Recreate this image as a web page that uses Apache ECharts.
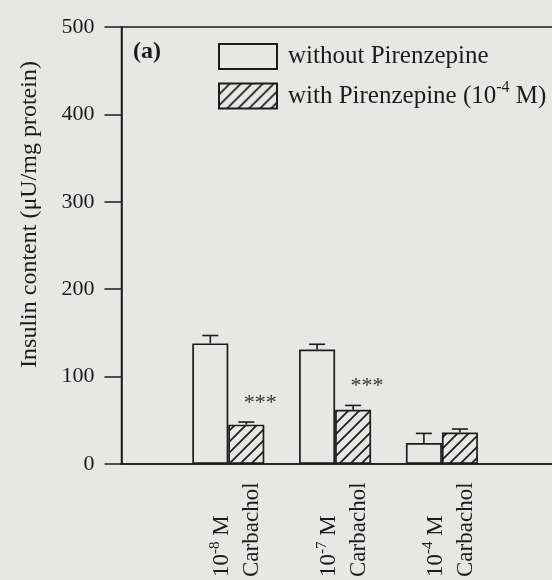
<!DOCTYPE html>
<html>
<head>
<meta charset="utf-8">
<script src="https://cdn.jsdelivr.net/npm/echarts@6/dist/echarts.min.js"></script>
<style>
  html, body { margin: 0; padding: 0; background: #e7e7e5; }
  #chart { width: 552px; height: 580px; }
</style>
</head>
<body>
<div id="chart"></div>
<script>
// carbachol doses (one group of bars each)
var doses = ['10^-8 M', '10^-7 M', '10^-4 M'];
var agent = 'Carbachol';
// insulin content (µU/mg protein)
var without = [138, 131, 24];
var withPz = [45, 62, 36];
// upper error (SEM)
var errWithout = [9, 6, 11];
var errWith = [3, 5, 4];
// significance marks over the "with" bars
var sig = ['***', '***', ''];
var yTicks = [0, 100, 200, 300, 400, 500];
var seriesNames = ['without Pirenzepine', 'with Pirenzepine (10^-4 M)'];

var ink = '#1c1c1c';
var paper = '#e7e7e5';
var font = 'Liberation Serif';

// empty slots so the groups sit where they do in the figure (panel runs off the right edge)
var axisData = [''].concat(doses, ['', '']);
function pad(arr) { return [null].concat(arr, [null, null]); }

// "10^-8 M" -> rich text with a superscript
function supText(s) {
  var m = s.match(/^(.*?10)\^(-?\d+)(.*)$/);
  if (!m) return '{n|' + s + '}';
  return '{n|' + m[1] + '}{sup|' + m[2] + '}{n|' + m[3] + '}';
}

function richStyle(size) {
  return {
    n: { fontFamily: font, fontSize: size, color: ink, lineHeight: size + 7 },
    sup: { fontFamily: font, fontSize: Math.round(size * 0.65), color: ink, verticalAlign: 'top', lineHeight: Math.round(size * 0.7) }
  };
}

// diagonal hatching "///"
function hatch() {
  var s = 11;
  var c = document.createElement('canvas');
  c.width = s; c.height = s;
  var g = c.getContext('2d');
  g.strokeStyle = ink;
  g.lineWidth = 1.7;
  g.beginPath();
  g.moveTo(0, s); g.lineTo(s, 0);
  g.moveTo(-1, 1); g.lineTo(1, -1);
  g.moveTo(s - 1, s + 1); g.lineTo(s + 1, s - 1);
  g.stroke();
  return c;
}

function errBars(vals, errs, dx, marks) {
  return {
    type: 'custom',
    z: 5,
    silent: true,
    data: vals.map(function (v, i) { return [i + 1, v, v + errs[i], i]; }),
    renderItem: function (params, api) {
      var lo = api.coord([api.value(0), api.value(1)]);
      var hi = api.coord([api.value(0), api.value(2)]);
      var x = lo[0] + dx;
      var kids = [
        { type: 'line', shape: { x1: x, y1: lo[1], x2: x, y2: hi[1] }, style: { stroke: ink, lineWidth: 1.6 } },
        { type: 'line', shape: { x1: x - 8, y1: hi[1], x2: x + 8, y2: hi[1] }, style: { stroke: ink, lineWidth: 1.6 } }
      ];
      var m = marks && marks[api.value(3)];
      if (m) {
        kids.push({
          type: 'text', x: x + 14, y: hi[1] - 19,
          style: { text: m, fontFamily: font, fontSize: 22, fill: '#333', align: 'center', verticalAlign: 'middle' }
        });
      }
      return { type: 'group', children: kids };
    }
  };
}

var chart = echarts.init(document.getElementById('chart'));

var option = {
  backgroundColor: paper,
  animation: false,
  graphic: [{
    type: 'text', left: 133, top: 40,
    style: { text: '(a)', fontFamily: font, fontSize: 24, fontWeight: 'bold', fill: ink }
  }],
  legend: {
    data: seriesNames,
    orient: 'vertical',
    left: 213, top: 38,
    itemWidth: 58, itemHeight: 25, itemGap: 10,
    icon: 'rect',
    formatter: supText,
    textStyle: { fontFamily: font, fontSize: 25, color: ink, padding: [0, 0, 0, 6], rich: richStyle(25) }
  },
  // grid border gives the top frame line; its right side falls off the canvas
  grid: { left: 121.5, top: 27, width: 534, height: 437, show: true, borderColor: ink, borderWidth: 1.5, backgroundColor: 'transparent', outerBoundsMode: 'none' },
  xAxis: {
    type: 'category',
    data: axisData,
    boundaryGap: false,
    axisLine: { lineStyle: { color: ink, width: 1.5 } },
    axisTick: { show: false },
    splitLine: { show: false },
    axisLabel: {
      interval: 0,
      rotate: 90,
      align: 'left',
      verticalAlign: 'middle',
      margin: 113,
      padding: [18, 0, 0, 0],
      formatter: function (v) { return v ? supText(v) + '\n{n|' + agent + '}' : ''; },
      rich: richStyle(23)
    }
  },
  yAxis: {
    type: 'value',
    min: yTicks[0], max: yTicks[yTicks.length - 1], interval: yTicks[1] - yTicks[0],
    name: 'Insulin content (μU/mg protein)',
    nameLocation: 'middle', nameGap: 80, nameRotate: 90,
    nameTextStyle: { fontFamily: font, fontSize: 24, color: ink, padding: [0, 0, 0, 62] },
    axisLine: { show: true, lineStyle: { color: ink, width: 1.5 } },
    axisTick: { show: true, length: 17, lineStyle: { color: ink, width: 1.5 } },
    axisLabel: { margin: 27, fontFamily: font, fontSize: 22, color: ink },
    splitLine: { show: false }
  },
  series: [
    {
      name: seriesNames[0], type: 'bar', data: pad(without),
      barWidth: 36, barGap: '0%',
      itemStyle: { color: paper, borderColor: ink, borderWidth: 1.7 }
    },
    {
      name: seriesNames[1], type: 'bar', data: pad(withPz),
      barWidth: 36, barGap: '0%',
      itemStyle: { color: { image: hatch(), repeat: 'repeat' }, borderColor: ink, borderWidth: 1.7 }
    },
    errBars(without, errWithout, -18),
    errBars(withPz, errWith, 18, sig)
  ]
};

chart.setOption(option);
</script>
</body>
</html>
